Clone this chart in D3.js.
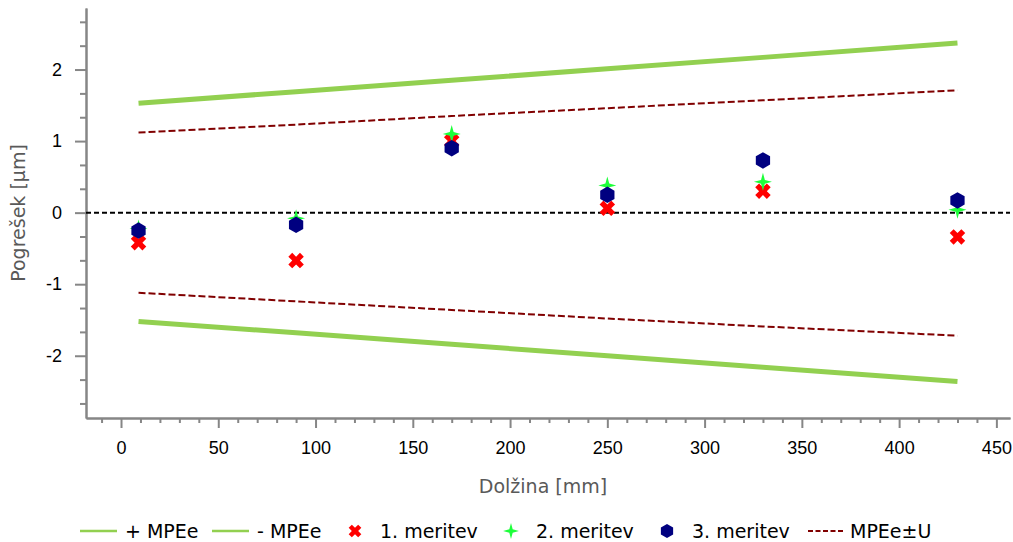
<!DOCTYPE html>
<meta charset="utf-8">
<style>
  body { margin: 0; background: #fff; }
  svg { font-family: "DejaVu Sans", Verdana, sans-serif; }
  .axis path, .axis line { stroke: #868686; stroke-width: 2px; }
  .axis text { fill: #000; font-size: 18px; }
  .title { fill: #595959; font-size: 19px; }
  .legend text { fill: #000; font-size: 19px; }
</style>
<body>
<script src="https://d3js.org/d3.v7.min.js"></script>
<script>
// data
var lengths  = [9, 90, 170, 250, 330, 430];
var mpePlus  = [1.53, 1.69, 1.85, 2.01, 2.17, 2.37];
var mpeMinus = [-1.52, -1.68, -1.84, -2.00, -2.16, -2.36];
var mpeUup   = [1.12, 1.23, 1.35, 1.46, 1.57, 1.71];
var mpeUdown = [-1.12, -1.24, -1.36, -1.48, -1.59, -1.72];
var meas1 = [-0.42, -0.67, 1.00, 0.06, 0.30, -0.34];
var meas2 = [-0.22, -0.08, 1.10, 0.38, 0.43, 0.04];
var meas3 = [-0.25, -0.17, 0.90, 0.25, 0.73, 0.17];
var xTicks = [0, 50, 100, 150, 200, 250, 300, 350, 400, 450];
var yTicks = [-2, -1, 0, 1, 2];
var legendLabels = ["+ MPEe", "- MPEe", "1. meritev", "2. meritev", "3. meritev", "MPEe±U"];

var W = 1013, H = 542;
var pLeft = 86, pRight = 1010, pTop = 8, pBottom = 418;

var svg = d3.select("body").append("svg")
    .attr("width", W).attr("height", H);

var x = d3.scaleLinear().domain([-18, 457]).range([pLeft, pRight]);
var y = d3.scaleLinear().domain([-2.87, 2.86]).range([pBottom, pTop]);

// minor ticks
var xMinor = d3.range(-10, 451, 10).filter(function (d) { return d % 50 !== 0; });
var yMinor = d3.range(-8, 9).filter(function (d) { return d % 3 !== 0; }).map(function (d) { return d / 3; });

svg.append("g").attr("class", "axis")
   .attr("transform", "translate(0," + pBottom + ")")
   .call(d3.axisBottom(x).tickValues(xMinor).tickSize(5).tickSizeOuter(0).tickFormat(""));
svg.append("g").attr("class", "axis")
   .attr("transform", "translate(0," + pBottom + ")")
   .call(d3.axisBottom(x).tickValues(xTicks).tickSize(10).tickSizeOuter(0).tickPadding(13)
         .tickFormat(String));
svg.append("g").attr("class", "axis")
   .attr("transform", "translate(" + pLeft + ",0)")
   .call(d3.axisLeft(y).tickValues(yMinor).tickSize(6).tickSizeOuter(0).tickFormat(""));
svg.append("g").attr("class", "axis")
   .attr("transform", "translate(" + pLeft + ",0)")
   .call(d3.axisLeft(y).tickValues(yTicks).tickSize(11).tickSizeOuter(0).tickPadding(13)
         .tickFormat(String));
svg.selectAll(".axis text").style("font-size", "18px").attr("fill", "#000");

// titles
svg.append("text").attr("class", "title")
   .attr("x", 543).attr("y", 493).attr("text-anchor", "middle")
   .text("Dolžina [mm]");
svg.append("text").attr("class", "title")
   .attr("transform", "translate(25,213) rotate(-90)")
   .attr("text-anchor", "middle")
   .text("Pogrešek [µm]");

// lines
function lineOf(vals) {
  return d3.line().x(function (d, i) { return x(lengths[i]); })
                  .y(function (d) { return y(d); })(vals);
}
[mpePlus, mpeMinus].forEach(function (s) {
  svg.append("path").attr("d", lineOf(s))
     .attr("fill", "none").attr("stroke", "#92d050").attr("stroke-width", 5);
});
[mpeUup, mpeUdown].forEach(function (s) {
  svg.append("path").attr("d", lineOf(s))
     .attr("fill", "none").attr("stroke", "#800000").attr("stroke-width", 2)
     .attr("stroke-dasharray", "7,3");
});

// zero line
svg.append("line")
   .attr("x1", pLeft).attr("x2", pRight)
   .attr("y1", y(0)).attr("y2", y(0))
   .attr("stroke", "#000").attr("stroke-width", 2).attr("stroke-dasharray", "5,3");

// marker symbols
var star4 = {
  draw: function (c, size) {
    var R = Math.sqrt(size) / 2, r = R * 0.3;
    for (var i = 0; i < 8; i++) {
      var a = i * Math.PI / 4 - Math.PI / 2, rad = i % 2 ? r : R;
      if (i === 0) c.moveTo(rad * Math.cos(a), rad * Math.sin(a));
      else c.lineTo(rad * Math.cos(a), rad * Math.sin(a));
    }
    c.closePath();
  }
};
var hexagon = {
  draw: function (c, size) {
    var R = Math.sqrt(size) / 2;
    for (var i = 0; i < 6; i++) {
      var a = i * Math.PI / 3 - Math.PI / 2;
      if (i === 0) c.moveTo(R * Math.cos(a), R * Math.sin(a));
      else c.lineTo(R * Math.cos(a), R * Math.sin(a));
    }
    c.closePath();
  }
};
var crossPath = d3.symbol().type(d3.symbolCross).size(150)();
var starPath = d3.symbol().type(star4).size(324)();
var hexPath = d3.symbol().type(hexagon).size(272)();

function markers(vals, path, color, rot) {
  svg.append("g").selectAll("path")
     .data(vals).enter().append("path")
     .attr("d", path)
     .attr("fill", color)
     .attr("transform", function (d, i) {
       return "translate(" + x(lengths[i]) + "," + y(d) + ")" + (rot ? " rotate(45)" : "");
     });
}
markers(meas1, crossPath, "#ff0000", true);
markers(meas2, starPath, "#1dff3a", false);
markers(meas3, hexPath, "#000080", false);

// legend
var lg = svg.append("g").attr("class", "legend");
var ly = 531;
var items = [
  { x: 80, kind: "line" }, { x: 212, kind: "line" },
  { x: 355, kind: "cross" }, { x: 511, kind: "star" },
  { x: 667, kind: "hex" }, { x: 808, kind: "dash" }
];
items.forEach(function (it, i) {
  var tx;
  if (it.kind === "line") {
    lg.append("line").attr("x1", it.x).attr("x2", it.x + 37).attr("y1", ly).attr("y2", ly)
      .attr("stroke", "#92d050").attr("stroke-width", 2.5);
    tx = it.x + 45;
  } else if (it.kind === "dash") {
    lg.append("line").attr("x1", it.x).attr("x2", it.x + 35).attr("y1", ly).attr("y2", ly)
      .attr("stroke", "#800000").attr("stroke-width", 2).attr("stroke-dasharray", "5,2.5");
    tx = it.x + 42;
  } else {
    var p = it.kind === "cross" ? d3.symbol().type(d3.symbolCross).size(100)()
          : it.kind === "star" ? d3.symbol().type(star4).size(250)()
          : d3.symbol().type(hexagon).size(200)();
    var col = it.kind === "cross" ? "#ff0000" : it.kind === "star" ? "#1dff3a" : "#000080";
    lg.append("path").attr("d", p).attr("fill", col)
      .attr("transform", "translate(" + it.x + "," + ly + ")" + (it.kind === "cross" ? " rotate(45)" : ""));
    tx = it.x + 25;
  }
  lg.append("text").attr("x", tx).attr("y", ly + 7).text(legendLabels[i]);
});
</script>
</body>
